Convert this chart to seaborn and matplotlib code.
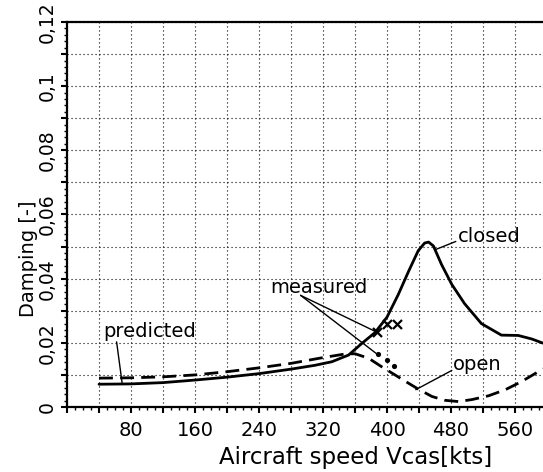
import matplotlib
matplotlib.use("Agg")
import matplotlib.pyplot as plt
from matplotlib.ticker import MultipleLocator, FuncFormatter
import pandas as pd
import seaborn as sns

# Damping vs. calibrated airspeed, flap closed / open
closed_speed = [40, 80, 120, 160, 200, 240, 280, 310, 331, 352, 368, 385, 400, 414,
                427, 439, 447, 452, 458, 468, 481, 497, 518, 543, 564, 581, 595]
closed_damping = [0.0071, 0.0072, 0.0076, 0.0084, 0.0093, 0.0104, 0.0118, 0.0130,
                  0.0141, 0.0162, 0.0197, 0.0232, 0.0280, 0.0350, 0.0423, 0.0487,
                  0.0511, 0.0514, 0.0502, 0.0445, 0.0382, 0.0322, 0.0260, 0.0224,
                  0.0223, 0.0212, 0.0199]

open_speed = [40, 80, 120, 160, 200, 240, 280, 320, 347, 360, 377, 393, 410, 427,
              439, 456, 472, 489, 506, 527, 548, 568, 585, 595]
open_damping = [0.0090, 0.0091, 0.0094, 0.0100, 0.0110, 0.0122, 0.0136, 0.0154,
                0.0165, 0.0166, 0.0152, 0.0126, 0.0100, 0.0074, 0.0056, 0.0033,
                0.0021, 0.0017, 0.0023, 0.0035, 0.0054, 0.0079, 0.0104, 0.0119]

# flight test points
meas_closed_speed = [387, 400, 412]
meas_closed_damping = [0.0234, 0.0260, 0.0260]
meas_open_speed = [389, 400, 409]
meas_open_damping = [0.0164, 0.0145, 0.0129]

x_tick_labels = ["80", "160", "240", "320", "400", "480", "560"]
y_tick_labels = ["0", "0,02", "0,04", "0,06", "0,08", "0,1", "0,12"]

curves = pd.concat([
    pd.DataFrame({"speed": closed_speed, "damping": closed_damping, "flap": "closed"}),
    pd.DataFrame({"speed": open_speed, "damping": open_damping, "flap": "open"}),
], ignore_index=True)

sns.set_style("ticks")
plt.rcParams["font.family"] = ["DejaVu Sans"]
FS = 14

fig = plt.figure(figsize=(5.43, 4.72), dpi=100)
ax = fig.add_axes([67 / 543, 65 / 472, 476 / 543, 385 / 472])

sns.lineplot(data=curves, x="speed", y="damping", style="flap",
             dashes={"closed": "", "open": (5, 2.6)}, color="black",
             linewidth=2.0, legend=False, sort=False, ax=ax)

sns.scatterplot(x=meas_closed_speed, y=meas_closed_damping, marker="x",
                color="black", s=42, linewidth=1.6, ax=ax, zorder=5)
sns.scatterplot(x=meas_open_speed, y=meas_open_damping, marker="o",
                color="black", s=14, linewidth=0, ax=ax, zorder=5)

ax.set_xlim(0, 595)
ax.set_ylim(0, 0.12)

# ticks: majors on the grid, minors between
ax.xaxis.set_major_locator(MultipleLocator(40))
ax.xaxis.set_minor_locator(MultipleLocator(10))
ax.yaxis.set_major_locator(MultipleLocator(0.01))
ax.yaxis.set_minor_locator(MultipleLocator(0.002))

xlab = {80 * (i + 1): t for i, t in enumerate(x_tick_labels)}
ylab = {2 * i: t for i, t in enumerate(y_tick_labels)}
ax.xaxis.set_major_formatter(FuncFormatter(lambda v, p: xlab.get(int(round(v)), "")))
ax.yaxis.set_major_formatter(FuncFormatter(lambda v, p: ylab.get(int(round(v * 100)), "")))

ax.tick_params(axis="both", which="major", direction="out", length=4.5, width=1.5,
               color="black", labelcolor="black")
ax.tick_params(axis="both", which="minor", direction="out", length=2.5, width=1.0,
               color="black")
ax.tick_params(axis="x", which="major", pad=5.5, labelsize=FS)
ax.tick_params(axis="y", which="major", pad=3.0, labelsize=FS - 0.5)
for lbl in ax.get_yticklabels():
    lbl.set_rotation(90)
    lbl.set_va("center")
    lbl.set_ha("right")

ax.grid(True, which="major", color="black", linestyle=(0, (1, 2.6)), linewidth=0.8)

for side in ("left", "bottom", "top"):
    ax.spines[side].set_linewidth(1.6)
    ax.spines[side].set_color("black")
ax.spines["right"].set_visible(False)

ax.set_xlabel("Aircraft speed Vcas[kts]", fontsize=16.5, color="black")
ax.set_ylabel("Damping [-]", fontsize=14, color="black")
ax.xaxis.label.set_va("baseline")
ax.xaxis.set_label_coords(0.606, -0.148)
ax.yaxis.set_label_coords(-0.06, 0.386)

# curve labels with leader lines
txt = dict(fontsize=FS, color="black")
ax.text(488, 0.0532, "closed", va="center", ha="left", **txt)
ax.plot([460, 486], [0.0490, 0.0516], color="black", linewidth=1.0)

ax.text(482, 0.0131, "open", va="center", ha="left", **txt)
ax.plot([481, 436], [0.0114, 0.0054], color="black", linewidth=1.0)

ax.text(254, 0.0374, "measured", va="center", ha="left", **txt)
ax.plot([292, 385], [0.0348, 0.0236], color="black", linewidth=1.0)
ax.plot([292, 387], [0.0348, 0.0166], color="black", linewidth=1.0)

ax.text(45, 0.0235, "predicted", va="center", ha="left", **txt)
ax.plot([62, 69], [0.0203, 0.0073], color="black", linewidth=1.0)

fig.savefig("out.png", dpi=100, facecolor="white")
